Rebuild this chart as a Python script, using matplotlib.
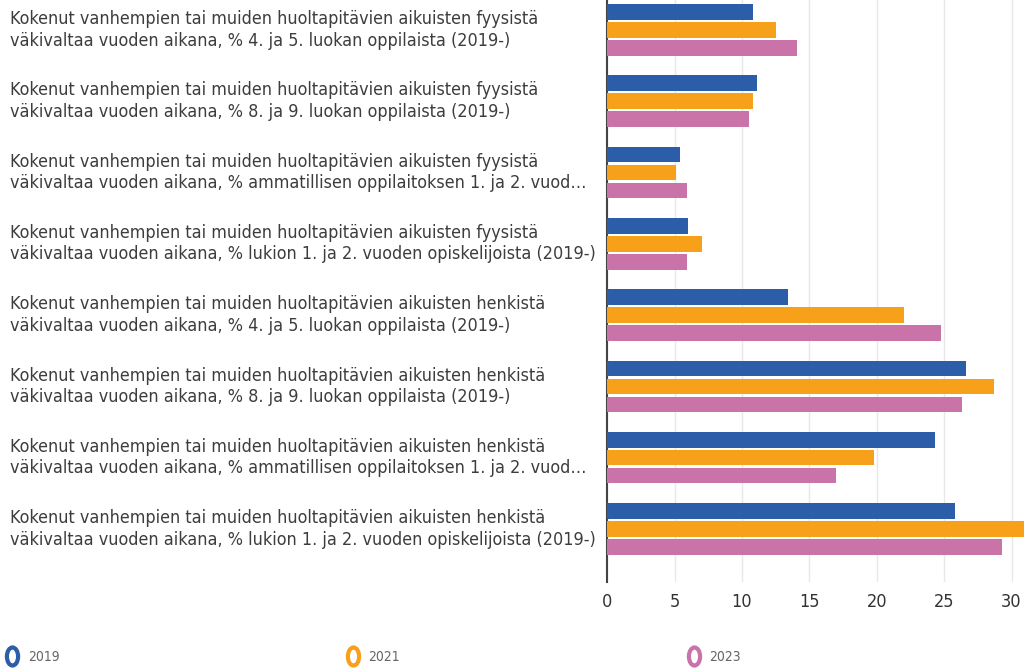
import matplotlib
matplotlib.use("Agg")
import matplotlib.pyplot as plt
import matplotlib.transforms as mtransforms
from matplotlib.lines import Line2D
from matplotlib.path import Path
import numpy as np

# data
categories = [
    "Kokenut vanhempien tai muiden huoltapitävien aikuisten fyysistä\nväkivaltaa vuoden aikana, % 4. ja 5. luokan oppilaista (2019-)",
    "Kokenut vanhempien tai muiden huoltapitävien aikuisten fyysistä\nväkivaltaa vuoden aikana, % 8. ja 9. luokan oppilaista (2019-)",
    "Kokenut vanhempien tai muiden huoltapitävien aikuisten fyysistä\nväkivaltaa vuoden aikana, % ammatillisen oppilaitoksen 1. ja 2. vuod…",
    "Kokenut vanhempien tai muiden huoltapitävien aikuisten fyysistä\nväkivaltaa vuoden aikana, % lukion 1. ja 2. vuoden opiskelijoista (2019-)",
    "Kokenut vanhempien tai muiden huoltapitävien aikuisten henkistä\nväkivaltaa vuoden aikana, % 4. ja 5. luokan oppilaista (2019-)",
    "Kokenut vanhempien tai muiden huoltapitävien aikuisten henkistä\nväkivaltaa vuoden aikana, % 8. ja 9. luokan oppilaista (2019-)",
    "Kokenut vanhempien tai muiden huoltapitävien aikuisten henkistä\nväkivaltaa vuoden aikana, % ammatillisen oppilaitoksen 1. ja 2. vuod…",
    "Kokenut vanhempien tai muiden huoltapitävien aikuisten henkistä\nväkivaltaa vuoden aikana, % lukion 1. ja 2. vuoden opiskelijoista (2019-)",
]
years = ["2019", "2021", "2023"]
v2019 = [10.8, 11.1, 5.4, 6.0, 13.4, 26.6, 24.3, 25.8]
v2021 = [12.5, 10.8, 5.1, 7.0, 22.0, 28.7, 19.8, 30.9]
v2023 = [14.1, 10.5, 5.9, 5.9, 24.8, 26.3, 17.0, 29.3]
xticks = [0, 5, 10, 15, 20, 25, 30]

colors = ["#2B5DA8", "#F7A11A", "#C973A9"]

fig = plt.figure(figsize=(10.25, 6.69), dpi=100)
ax = fig.add_axes([0.5925, 0.1305, 0.4075, 0.8695])

y = np.arange(len(categories))
h = 0.218
step = 0.252
for i, (vals, c) in enumerate(zip([v2019, v2021, v2023], colors)):
    ax.barh(y + (i - 1) * step, vals, height=h, color=c, zorder=3)

ax.set_xlim(0, 31.0)
ax.set_ylim(7.739, -0.419)
ax.set_xticks(xticks)
ax.set_xticklabels([str(t) for t in xticks], fontsize=13, color="#333333",
                   fontstretch="condensed")
ax.tick_params(axis="x", length=0, pad=8)
ax.set_yticks([])
ax.grid(axis="x", color="#e8e8e8", linewidth=1, zorder=0)
for s in ["top", "right", "bottom"]:
    ax.spines[s].set_visible(False)
ax.spines["left"].set_color("#444444")
ax.spines["left"].set_linewidth(1.5)

# category labels, left aligned at the figure edge
trans = mtransforms.blended_transform_factory(fig.transFigure, ax.transData)
for yi, lab in zip(y, categories):
    ax.text(0.0098, yi, lab, transform=trans, ha="left", va="center",
            fontsize=12.9, color="#3d3d3d", linespacing=1.24,
            fontstretch="condensed", clip_on=False)

# ring legend markers (oval), one legend per year
circ = Path.unit_circle()
oval = Path(circ.vertices * np.array([0.62, 1.0]), circ.codes)
for yr, c, x0 in zip(years, colors, [0.004, 0.336, 0.669]):
    hd = Line2D([], [], marker=oval, linestyle="", markersize=13,
                markerfacecolor="white", markeredgecolor=c, markeredgewidth=3)
    leg = fig.legend([hd], [yr], loc="center left",
                     bbox_to_anchor=(x0, 1 - 657 / 669), frameon=False,
                     handlelength=1.2, handletextpad=0.5, borderaxespad=0.0,
                     borderpad=0.0, prop={"size": 10, "stretch": "condensed"})
    for t in leg.get_texts():
        t.set_color("#666666")

fig.savefig("out.png", dpi=100)
